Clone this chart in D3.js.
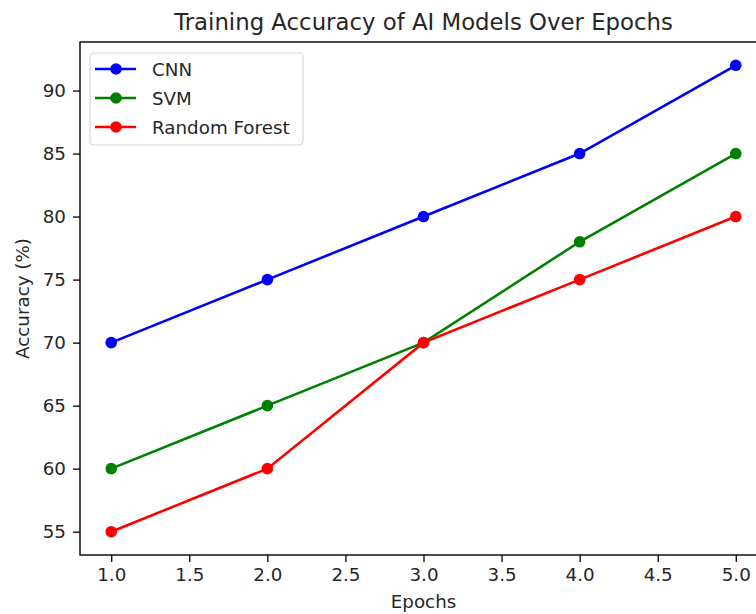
<!DOCTYPE html>
<html>
<head>
<meta charset="utf-8">
<script src="https://cdn.jsdelivr.net/npm/d3@7"></script>
<style>
  body { margin: 0; background: #fff; }
  svg text { font-family: "DejaVu Sans", sans-serif; fill: #262626; }
</style>
</head>
<body>
<svg width="756" height="614"></svg>
<script>
var epochs = [1, 2, 3, 4, 5];
var cnn = [70, 75, 80, 85, 92];
var svm = [60, 65, 70, 78, 85];
var randomForest = [55, 60, 70, 75, 80];
var seriesNames = ["CNN", "SVM", "Random Forest"];
var seriesColors = ["blue", "green", "red"];
var xTicks = [1.0, 1.5, 2.0, 2.5, 3.0, 3.5, 4.0, 4.5, 5.0];
var yTicks = [55, 60, 65, 70, 75, 80, 85, 90];

var series = [cnn, svm, randomForest].map(function(vals, i) {
    return {
        name: seriesNames[i],
        color: seriesColors[i],
        points: vals.map(function(v, j) { return { x: epochs[j], y: v }; })
    };
});

var svg = d3.select("svg");
var plotLeft = 80, plotRight = 767, plotTop = 42, plotBottom = 555;

// matplotlib style 5% margins
var xMin = d3.min(epochs), xMax = d3.max(epochs);
var allY = cnn.concat(svm, randomForest);
var yMin = d3.min(allY), yMax = d3.max(allY);
var xPad = (xMax - xMin) * 0.05, yPad = (yMax - yMin) * 0.05;

var x = d3.scaleLinear().domain([xMin - xPad, xMax + xPad]).range([plotLeft, plotRight]);
var y = d3.scaleLinear().domain([yMin - yPad, yMax + yPad]).range([plotBottom, plotTop]);

var tickFont = "18.3px";

// x axis
var xAxis = svg.append("g")
    .attr("transform", "translate(0," + plotBottom + ")")
    .call(d3.axisBottom(x).tickValues(xTicks).tickFormat(d3.format(".1f")).tickSizeOuter(0).tickSize(7).tickPadding(6));
xAxis.select(".domain").remove();
xAxis.selectAll("line").attr("stroke", "#000").attr("stroke-width", 1.3);
xAxis.selectAll("text").attr("font-size", tickFont).attr("fill", "#262626")
    .attr("font-family", "DejaVu Sans").attr("dy", "0.72em");

// y axis
var yAxis = svg.append("g")
    .attr("transform", "translate(" + plotLeft + ",0)")
    .call(d3.axisLeft(y).tickValues(yTicks).tickSizeOuter(0).tickSize(7).tickPadding(7));
yAxis.select(".domain").remove();
yAxis.selectAll("line").attr("stroke", "#000").attr("stroke-width", 1.3);
yAxis.selectAll("text").attr("font-size", tickFont).attr("fill", "#262626")
    .attr("font-family", "DejaVu Sans");

// frame
svg.append("rect")
    .attr("x", plotLeft).attr("y", plotTop)
    .attr("width", plotRight - plotLeft).attr("height", plotBottom - plotTop)
    .attr("fill", "none").attr("stroke", "#000").attr("stroke-width", 1.4);

var line = d3.line()
    .x(function(d) { return x(d.x); })
    .y(function(d) { return y(d.y); });

var g = svg.append("g");
series.forEach(function(s) {
    g.append("path")
        .datum(s.points)
        .attr("d", line)
        .attr("fill", "none")
        .attr("stroke", s.color)
        .attr("stroke-width", 2.6);
    g.selectAll(".dot-" + s.color)
        .data(s.points)
        .enter()
        .append("circle")
        .attr("cx", function(d) { return x(d.x); })
        .attr("cy", function(d) { return y(d.y); })
        .attr("r", 5.8)
        .attr("fill", s.color);
});

// title and labels
svg.append("text")
    .attr("x", (plotLeft + plotRight) / 2).attr("y", 30)
    .attr("text-anchor", "middle")
    .attr("font-size", "22.8px")
    .text("Training Accuracy of AI Models Over Epochs");

svg.append("text")
    .attr("x", (plotLeft + plotRight) / 2).attr("y", 608)
    .attr("text-anchor", "middle")
    .attr("font-size", tickFont)
    .text("Epochs");

svg.append("text")
    .attr("transform", "translate(29," + (plotTop + plotBottom) / 2 + ") rotate(-90)")
    .attr("text-anchor", "middle")
    .attr("font-size", tickFont)
    .text("Accuracy (%)");

// legend
var legend = svg.append("g").attr("transform", "translate(90,53)");
legend.append("rect")
    .attr("width", 213).attr("height", 92)
    .attr("rx", 4)
    .attr("fill", "#fff").attr("fill-opacity", 0.8)
    .attr("stroke", "#d6d6d6").attr("stroke-width", 1.2);

var item = legend.selectAll(".item")
    .data(series)
    .enter()
    .append("g")
    .attr("class", "item")
    .attr("transform", function(d, i) { return "translate(0," + (16 + i * 29) + ")"; });

item.append("line")
    .attr("x1", 5).attr("x2", 46)
    .attr("stroke", function(d) { return d.color; })
    .attr("stroke-width", 2.6);
item.append("circle")
    .attr("cx", 26).attr("r", 5.8)
    .attr("fill", function(d) { return d.color; });
item.append("text")
    .attr("x", 62).attr("dy", "0.36em")
    .attr("font-size", tickFont)
    .text(function(d) { return d.name; });
</script>
</body>
</html>
